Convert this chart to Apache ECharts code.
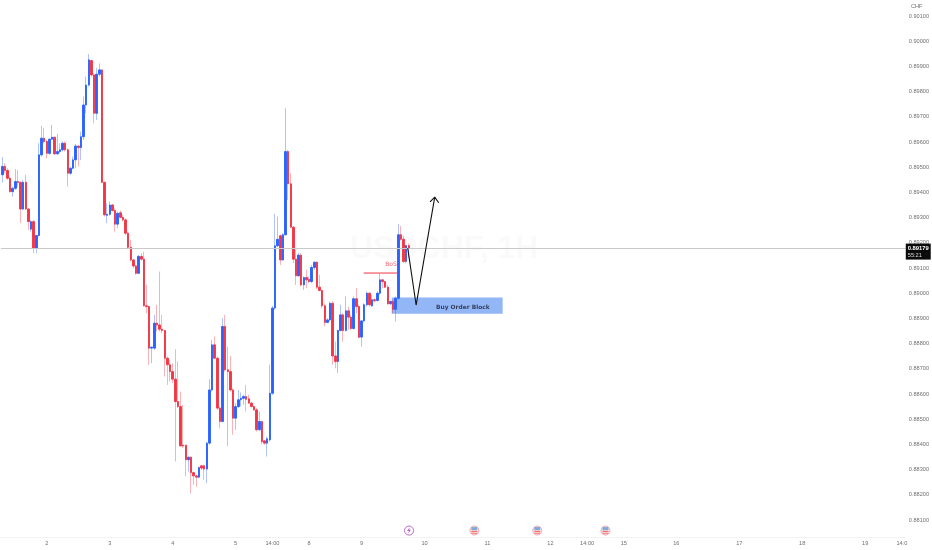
<!DOCTYPE html>
<html>
<head>
<meta charset="utf-8">
<style>html,body{margin:0;padding:0;background:#fff}#c{width:932px;height:550px}</style>
<script src="https://cdn.jsdelivr.net/npm/echarts@6/dist/echarts.min.js"></script>
</head>
<body>
<div id="c"></div>
<script>
const opens=[0.89470,0.89503,0.89487,0.89456,0.89403,0.89416,0.89443,0.89440,0.89334,0.89440,0.89334,0.89254,0.89284,0.89178,0.89229,0.89549,0.89615,0.89602,0.89555,0.89611,0.89619,0.89553,0.89562,0.89569,0.89595,0.89569,0.89476,0.89496,0.89529,0.89584,0.89578,0.89621,0.89747,0.89826,0.89923,0.89866,0.89714,0.89869,0.89886,
0.89440,0.89309,0.89313,0.89350,0.89328,0.89274,0.89319,0.89301,0.89291,0.89238,0.89182,0.89132,0.89108,0.89079,0.89146,0.89135,0.88950,0.88947,0.88782,0.88782,0.88881,0.88874,0.88857,0.88852,0.88742,0.88716,0.88689,0.88659,0.88570,0.88550,0.88397,0.88397,0.88339,0.88349,0.88288,0.88275,0.88270,0.88315,0.88315,0.88302,0.88405,0.88616,0.88795,0.88742,0.88544,0.88491,0.88868,0.88696,0.88689,0.88616,0.88504,0.88550,0.88577,0.88583,0.88590,
0.88581,0.88564,0.88550,0.88537,0.88458,0.88491,0.88414,0.88405,0.88418,0.88603,0.88941,0.89188,0.89228,0.89132,0.89232,0.89562,0.89434,0.89262,0.89135,0.89069,0.89151,0.89033,0.89062,0.89055,0.89046,0.89102,0.89123,0.89024,0.89011,0.88950,0.88884,0.88894,0.88960,0.88751,0.88729,0.88852,0.88914,0.88852,0.88930,0.88905,0.88860,0.88978,0.88947,0.88826,0.88890,0.88954,0.89000,0.88950,0.88974,0.88971,0.89000,0.89053,0.89046,0.89024,0.88958,0.88967,0.88936,0.88980,0.89232,0.89214,0.89126,0.89189];
const closes=[0.89503,0.89487,0.89456,0.89403,0.89416,0.89443,0.89439,0.89334,0.89440,0.89334,0.89284,0.89284,0.89178,0.89229,0.89549,0.89615,0.89602,0.89555,0.89611,0.89619,0.89553,0.89562,0.89569,0.89595,0.89569,0.89476,0.89496,0.89529,0.89584,0.89578,0.89621,0.89747,0.89826,0.89926,0.89866,0.89714,0.89869,0.89886,0.89440,
0.89311,0.89313,0.89350,0.89328,0.89274,0.89317,0.89301,0.89291,0.89238,0.89182,0.89132,0.89108,0.89079,0.89146,0.89135,0.88950,0.88947,0.88782,0.88786,0.88881,0.88874,0.88857,0.88852,0.88742,0.88716,0.88689,0.88659,0.88570,0.88550,0.88394,0.88394,0.88339,0.88349,0.88288,0.88275,0.88270,0.88308,0.88306,0.88302,0.88405,0.88616,0.88795,0.88742,0.88544,0.88491,0.88868,0.88696,0.88689,0.88616,0.88504,0.88550,0.88577,0.88583,0.88590,0.88579,
0.88564,0.88550,0.88537,0.88458,0.88491,0.88411,0.88405,0.88422,0.88603,0.88941,0.89188,0.89214,0.89132,0.89232,0.89562,0.89434,0.89262,0.89135,0.89069,0.89151,0.89033,0.89062,0.89053,0.89046,0.89102,0.89123,0.89024,0.89011,0.88950,0.88884,0.88894,0.88960,0.88751,0.88729,0.88852,0.88914,0.88852,0.88930,0.88905,0.88860,0.88978,0.88947,0.88825,0.88890,0.88954,0.89000,0.88954,0.88974,0.88970,0.89000,0.89053,0.89046,0.89024,0.88958,0.88967,0.88936,0.88980,0.89232,0.89214,0.89126,0.89189,0.89179];
const lows=[0.89439,0.89476,0.89450,0.89399,0.89383,0.89410,0.89423,0.89278,0.89330,0.89330,0.89251,0.89244,0.89159,0.89159,0.89225,0.89542,0.89595,0.89535,0.89549,0.89608,0.89549,0.89549,0.89555,0.89562,0.89562,0.89423,0.89470,0.89492,0.89496,0.89502,0.89529,0.89608,0.89714,0.89820,0.89860,0.89674,0.89688,0.89860,0.89436,
0.89304,0.89278,0.89307,0.89324,0.89244,0.89258,0.89297,0.89284,0.89231,0.89174,0.89125,0.89099,0.89073,0.89077,0.89130,0.88947,0.88921,0.88716,0.88722,0.88775,0.88848,0.88848,0.88841,0.88669,0.88636,0.88650,0.88643,0.88332,0.88544,0.88392,0.88385,0.88273,0.88292,0.88206,0.88240,0.88233,0.88266,0.88299,0.88259,0.88246,0.88398,0.88610,0.88738,0.88537,0.88464,0.88487,0.88689,0.88392,0.88610,0.88438,0.88458,0.88544,0.88550,0.88557,0.88530,
0.88560,0.88546,0.88533,0.88451,0.88454,0.88401,0.88398,0.88352,0.88411,0.88597,0.88934,0.89183,0.89112,0.89128,0.89228,0.89370,0.89258,0.89119,0.89033,0.89066,0.89027,0.89013,0.89020,0.89040,0.89040,0.89093,0.89016,0.89007,0.88941,0.88868,0.88881,0.88888,0.88716,0.88702,0.88683,0.88848,0.88808,0.88848,0.88855,0.88855,0.88855,0.88921,0.88822,0.88788,0.88884,0.88947,0.88947,0.88945,0.88963,0.88967,0.88993,0.89020,0.89020,0.88954,0.88954,0.88921,0.88888,0.88974,0.89209,0.89119,0.89119,0.89139];
const highs=[0.89540,0.89516,0.89496,0.89463,0.89423,0.89492,0.89489,0.89443,0.89450,0.89470,0.89337,0.89291,0.89291,0.89231,0.89595,0.89664,0.89655,0.89608,0.89615,0.89668,0.89621,0.89632,0.89595,0.89602,0.89602,0.89575,0.89502,0.89542,0.89592,0.89588,0.89641,0.89780,0.89860,0.89949,0.89926,0.89873,0.89893,0.89912,0.89889,
0.89443,0.89357,0.89364,0.89354,0.89337,0.89324,0.89328,0.89311,0.89297,0.89244,0.89211,0.89135,0.89112,0.89152,0.89159,0.89165,0.89033,0.88950,0.88788,0.88914,0.88954,0.89086,0.88914,0.88855,0.88749,0.88735,0.88722,0.88778,0.88729,0.88610,0.88557,0.88398,0.88352,0.88352,0.88292,0.88279,0.88312,0.88319,0.88319,0.88411,0.88659,0.88815,0.88828,0.88749,0.88550,0.88901,0.88914,0.88788,0.88751,0.88623,0.88563,0.88616,0.88606,0.88597,0.88636,
0.88597,0.88568,0.88554,0.88544,0.88530,0.88493,0.88418,0.88431,0.88716,0.88950,0.89315,0.89304,0.89232,0.89238,0.89734,0.89569,0.89476,0.89267,0.89172,0.89161,0.89159,0.89066,0.89093,0.89066,0.89112,0.89126,0.89126,0.89073,0.89013,0.88960,0.88901,0.88967,0.88967,0.88808,0.88855,0.88954,0.88921,0.88987,0.88947,0.88914,0.88987,0.89020,0.88954,0.88894,0.88960,0.89007,0.89003,0.88993,0.88980,0.89007,0.89079,0.89056,0.89049,0.89033,0.88971,0.88974,0.88987,0.89275,0.89267,0.89228,0.89192,0.89198];

const slotCount=345;
const timeTickSlots=[17,41,65,89,103,117,137,161,185,209,223,237,257,281,305,329,343];
const timeTickLabels=['2','3','4','5','14:00','8','9','10','11','12','14:00','15','16','17','18','19','14:0'];
const priceTicks=[0.901,0.900,0.899,0.898,0.897,0.896,0.895,0.894,0.893,0.892,0.891,0.890,0.889,0.888,0.887,0.886,0.885,0.884,0.883,0.882,0.881];
const priceMin=0.880325, priceMax=0.901635;
const lastPrice=0.89179, countdown='55:21', currency='CHF';
const blockSlots=[148.5,190.8], blockPrices=[0.88983,0.88918], blockLabelAt=[175.6,0.88942], blockText='Buy Order Block';
const bosSlots=[137.8,150.5], bosPrice=0.89080, bosLabelAt=[148.2,0.89115], bosText='BoS';
const arrowPath=[[154.6,0.89179],[157.8,0.88953],[164.9,0.89381]];
const arrowHead=[[163.1,0.89362],[164.9,0.89381],[166.4,0.89359]];
const eventSlots=[180,204,230], boltSlot=155.1, eventPrice=0.88058;

const categories=[];
for(let i=0;i<slotCount;i++){const k=timeTickSlots.indexOf(i);categories.push(k>=0?timeTickLabels[k]:'');}
const wickData=opens.map((o,i)=>[o,closes[i],lows[i],highs[i]]);
const bodyData=opens.map((o,i)=>[o,closes[i],Math.min(o,closes[i]),Math.max(o,closes[i])]);
const BLUE='#2962ff',RED='#f23645';
const FONT='"Liberation Sans",Roboto,sans-serif';
const bolt='path://M6 0 L1 7 H4.5 L3.5 12 L9 4.5 H5.5 Z';
const stripes='path://M0 5 H10 V6.5 H0 Z M0 7.8 H10 V9.3 H0 Z';
const canton='path://M0 0 H10 V4.5 H0 Z';
const chart=echarts.init(document.getElementById('c'),null,{renderer:'canvas'});
const annot={type:'line',xAxisIndex:1,yAxisIndex:0,symbol:'none',silent:true,animation:false};
chart.setOption({
 animation:false,backgroundColor:'#ffffff',
 title:{text:'USDCHF, 1H',left:345,top:228,z:0,textStyle:{color:'#fafafb',fontSize:32,fontWeight:'bold',fontFamily:FONT}},
 grid:{left:0.94,top:0,width:905.625,height:537,containLabel:false},
 xAxis:[
  {type:'category',data:categories,boundaryGap:true,
   axisLine:{show:true,lineStyle:{color:'#f2f2f2',width:1}},axisTick:{show:false},splitLine:{show:false},
   axisLabel:{interval:(i)=>timeTickSlots.includes(i),hideOverlap:false,color:'#6f6f6f',fontSize:5.6,margin:3,fontFamily:FONT}},
  {type:'value',min:-0.5,max:slotCount-0.5,show:false,position:'top'}
 ],
 yAxis:{type:'value',position:'right',min:priceMin,max:priceMax,scale:true,
  axisLine:{show:false},axisTick:{show:false},splitLine:{show:false},
  axisLabel:{customValues:priceTicks,formatter:(v)=>v.toFixed(5),color:'#6f6f6f',fontSize:5.6,margin:3,align:'left',fontFamily:FONT}},
 graphic:[{type:'text',left:911,top:3,z:10,style:{text:currency,fill:'#6f6f6f',font:'5.6px '+FONT}}],
 series:[
  Object.assign({},annot,{name:'block',z:1,data:[],markArea:{silent:true,itemStyle:{color:'#92b6f6'},label:{show:false},
   data:[[{coord:[blockSlots[0],blockPrices[0]]},{coord:[blockSlots[1],blockPrices[1]]}]]}}),
  {type:'candlestick',name:'wicks',z:2,barWidth:1,data:wickData,
   itemStyle:{color:'rgba(41,98,255,0.38)',color0:'rgba(242,54,69,0.38)',borderColor:'rgba(41,98,255,0.38)',borderColor0:'rgba(242,54,69,0.38)',borderWidth:1}},
  {type:'candlestick',name:'bodies',z:3,barWidth:2,data:bodyData,
   itemStyle:{color:BLUE,color0:RED,borderColor:BLUE,borderColor0:RED,borderWidth:0.9}},
  Object.assign({},annot,{name:'last',z:4,data:[],markLine:{silent:true,symbol:'none',animation:false,precision:5,
   lineStyle:{color:'#c9c9c9',width:1,type:'solid'},
   label:{show:true,position:'end',distance:0,offset:[0,3.5],formatter:()=>'{a|'+lastPrice.toFixed(5)+'}\n{b|'+countdown+'}',
    backgroundColor:'#0b0b0b',padding:[1,2,1,2],rich:{a:{color:'#fff',fontSize:5.8,fontWeight:'bold',lineHeight:7,fontFamily:FONT},b:{color:'#ddd',fontSize:5.6,lineHeight:7,fontFamily:FONT}}},
   data:[{yAxis:lastPrice}]}}),
  Object.assign({},annot,{name:'bos',z:5,data:[[bosSlots[0],bosPrice],[bosSlots[1],bosPrice]],lineStyle:{color:RED,width:1}}),
  Object.assign({},annot,{name:'arrow',z:6,data:arrowPath,lineStyle:{color:'#111',width:1.1}}),
  Object.assign({},annot,{name:'arrowHead',z:6,data:arrowHead,lineStyle:{color:'#111',width:1.1}}),
  {type:'scatter',name:'blockText',xAxisIndex:1,z:7,symbolSize:0,data:[blockLabelAt],silent:true,
   label:{show:true,position:'inside',formatter:blockText,color:'#1c2233',fontSize:5.9,fontWeight:'bold',fontFamily:'"DejaVu Sans"'}},
  {type:'scatter',name:'bosText',xAxisIndex:1,z:7,symbolSize:0,data:[bosLabelAt],silent:true,
   label:{show:true,position:'inside',formatter:bosText,color:RED,fontSize:6,fontFamily:'"DejaVu Sans"'}},
  {type:'scatter',name:'boltRing',xAxisIndex:1,z:7,symbol:'circle',symbolSize:9,silent:true,data:[[boltSlot,eventPrice]],itemStyle:{color:'#fff',borderColor:'#ab47bc',borderWidth:1}},
  {type:'scatter',name:'bolt',xAxisIndex:1,z:8,symbol:bolt,symbolSize:[4,6],silent:true,data:[[boltSlot,eventPrice]],itemStyle:{color:'#ab47bc'}},
  {type:'scatter',name:'flagBase',xAxisIndex:1,z:7,symbol:'circle',symbolSize:9,silent:true,data:eventSlots.map(s=>[s,eventPrice]),itemStyle:{color:'#fbe3e4',borderColor:'#f09aa0',borderWidth:1}},
  {type:'scatter',name:'flagBlue',xAxisIndex:1,z:8,symbol:canton,symbolSize:[6,3],symbolOffset:[0,-2],silent:true,data:eventSlots.map(s=>[s,eventPrice]),itemStyle:{color:'#5b9bd8'}},
  {type:'scatter',name:'flagRed',xAxisIndex:1,z:8,symbol:stripes,symbolSize:[6,3],symbolOffset:[0,1.8],silent:true,data:eventSlots.map(s=>[s,eventPrice]),itemStyle:{color:'#e8565f'}}
 ]
});
</script>
</body>
</html>
